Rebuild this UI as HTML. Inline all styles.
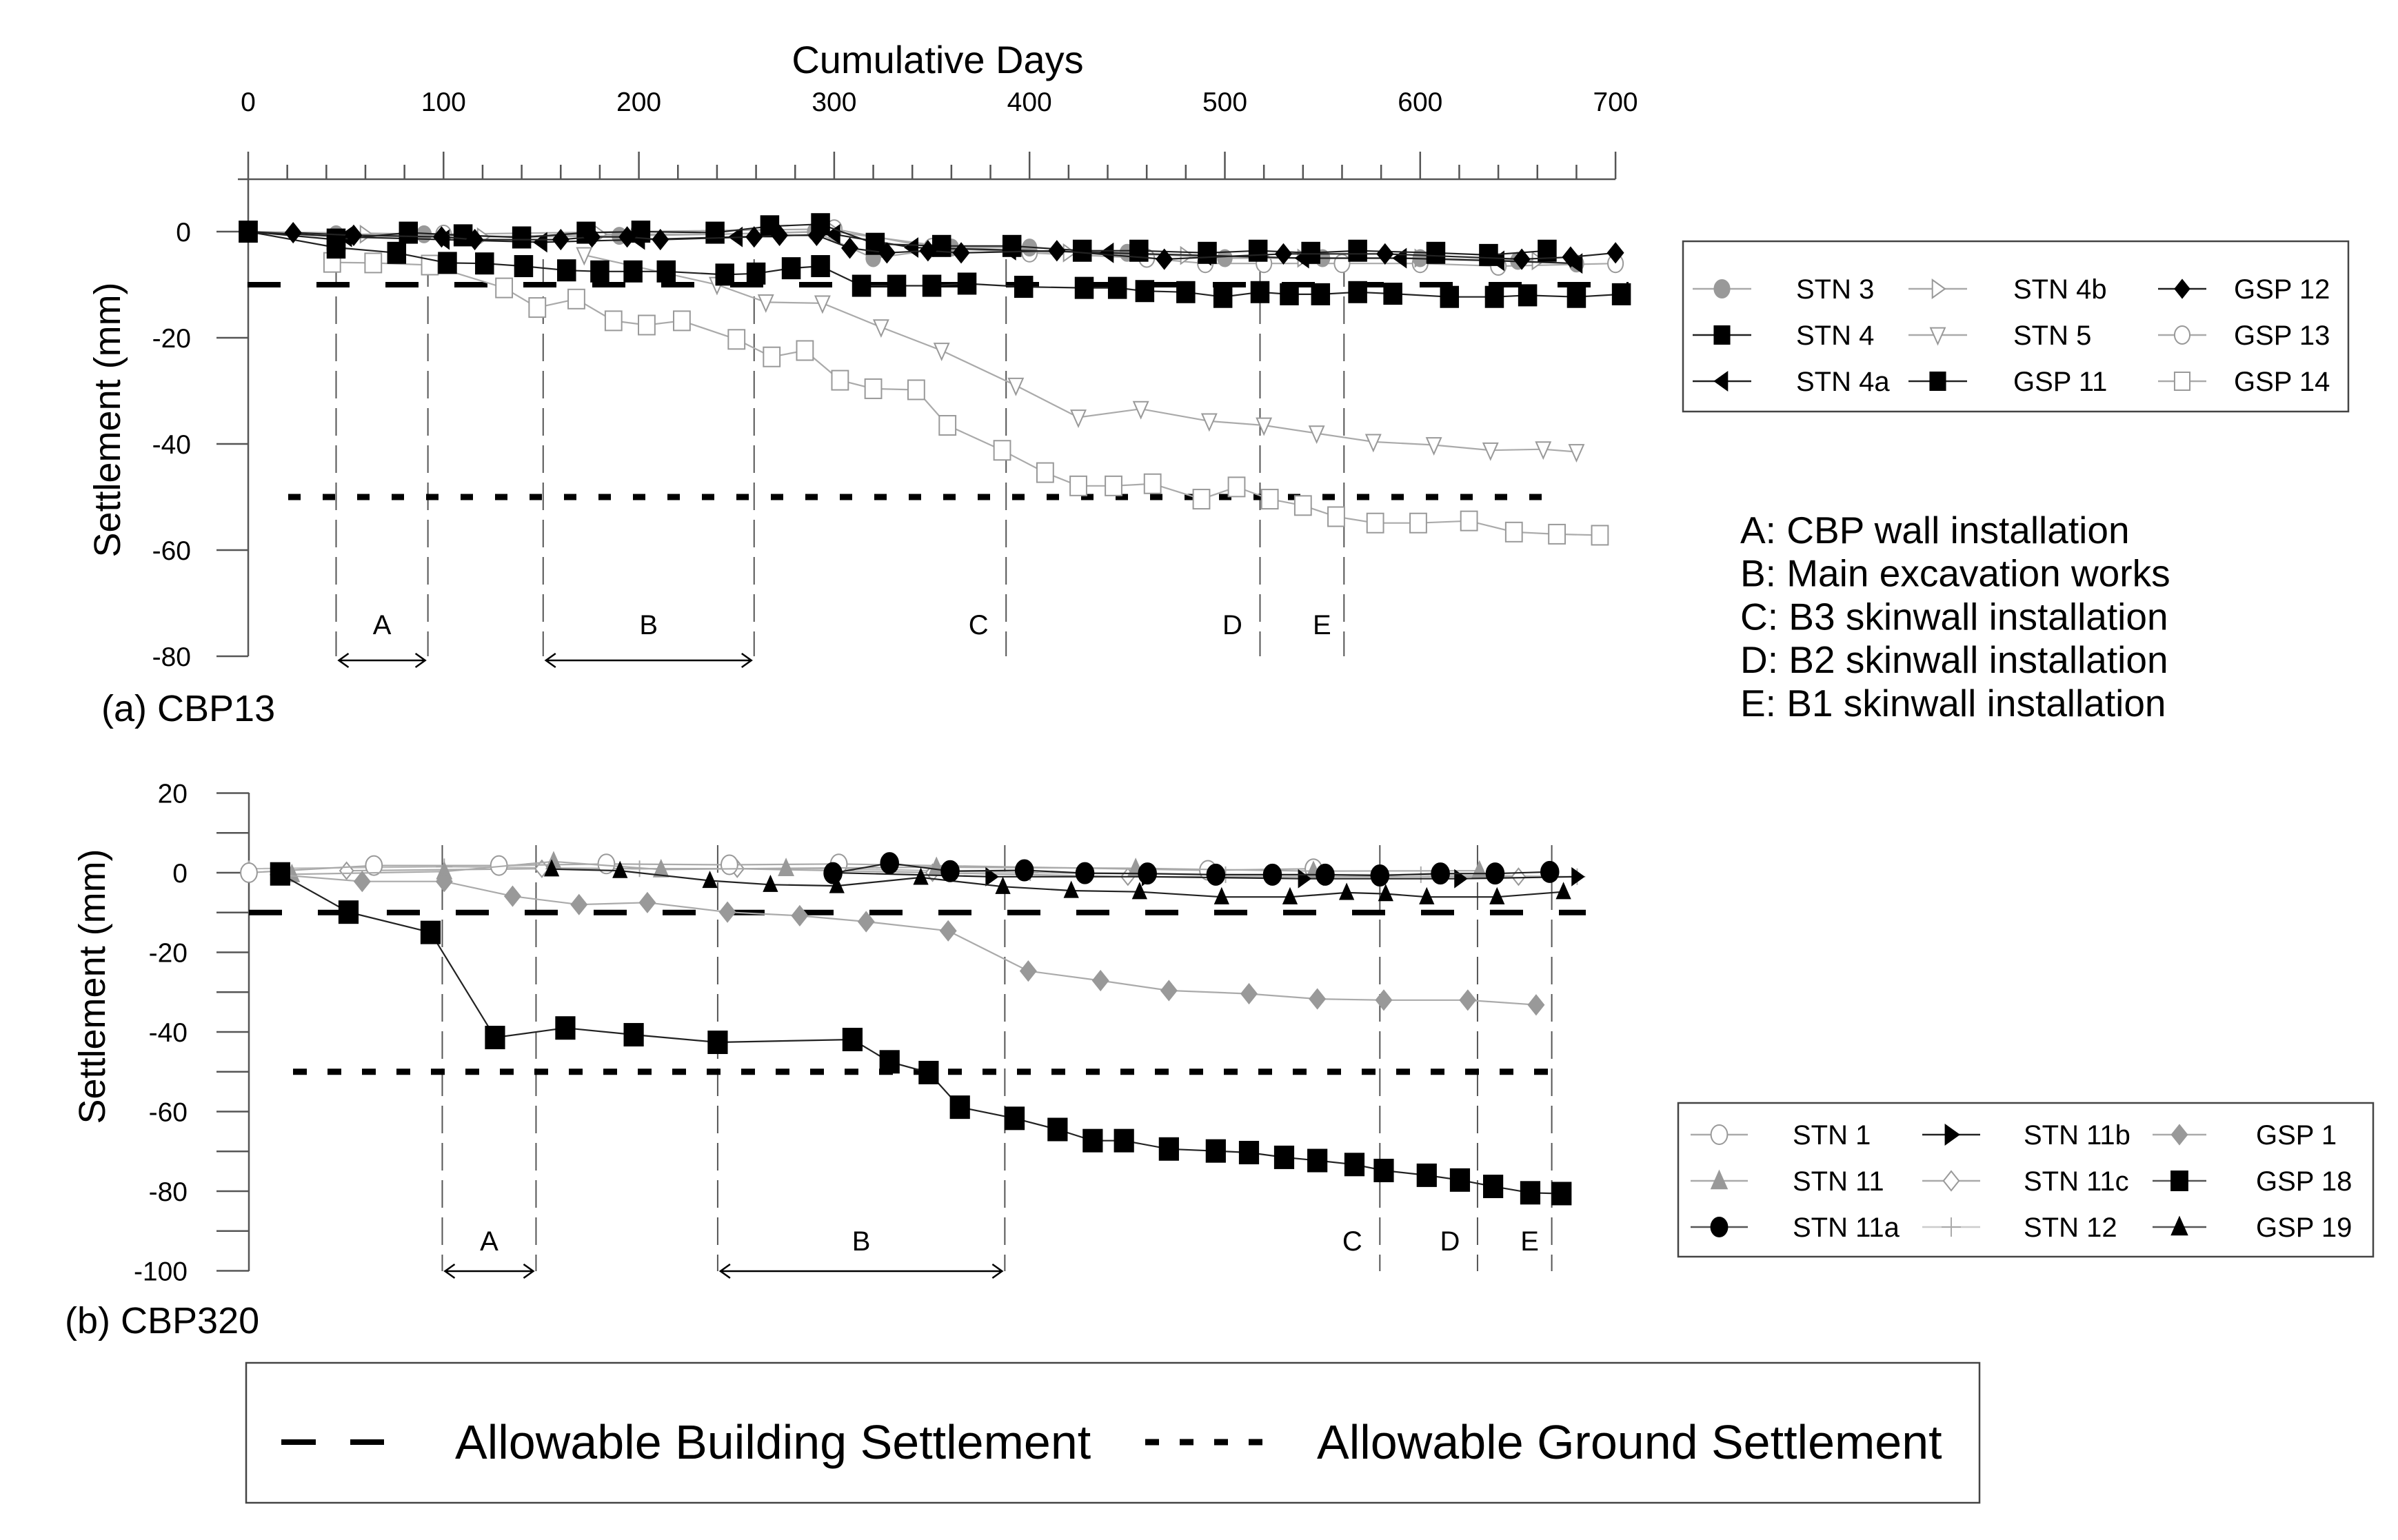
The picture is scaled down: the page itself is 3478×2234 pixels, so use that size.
<!DOCTYPE html>
<html><head><meta charset="utf-8"><title>Settlement chart</title>
<style>
html,body{margin:0;padding:0;background:#fff;}
svg{display:block;font-family:"Liberation Sans",Arial,sans-serif;}
</style></head>
<body>
<svg id="chart" width="3478" height="2234" viewBox="0 0 3478 2234" xmlns="http://www.w3.org/2000/svg">
<rect width="3478" height="2234" fill="#fff"/>
<g id="topPanel"></g>
<g id="botPanel"></g>
<g id="legPanel"></g>
</svg>
<script>
// ---------- DATA: panel (a) CBP13 ----------
const xTicksTop = [0,100,200,300,400,500,600,700];
const yTicksTop = [0,-20,-40,-60,-80];
const yTicksBot = [20,0,-20,-40,-60,-80,-100];
const eventDaysTop = [45,92,151,259,388,518,561];
const eventDaysBot = [99,147,240,387,579,629,667];

const stn3Days = [0,45,90,140,190,240,290,320,360,400,450,500,550,600,650,680];
const stn3Vals = [0,-0.5,-0.5,-1,-0.8,-0.5,0,-5,-3,-3,-4,-5,-5,-5,-5.5,-6];
const stn4Days = [0,45,82,110,140,173,201,239,267,293,321,355,391,427,456,491,517,544,568,608,635,665];
const stn4Vals = [0,-1.5,-0.2,-0.7,-1.1,-0.2,0,-0.2,1,1.4,-2.3,-2.7,-2.7,-3.6,-3.6,-4,-3.6,-4,-3.6,-4,-4.4,-3.6];
const stn4aDays = [0,50,100,150,200,250,300,340,390,440,490,540,590,640,680];
const stn4aVals = [0,-1,-1.5,-2,-1.5,-1,-0.5,-3,-3.5,-4,-4.5,-5,-5,-5.5,-6];
const stn4bDays = [0,60,120,180,240,300,360,420,480,540,600,660];
const stn4bVals = [0,-0.5,-1,-0.5,-0.5,0,-3,-4,-4.5,-5,-5,-5.5];
const stn5Days = [172,240,265,294,324,355,393,425,457,492,520,547,576,607,636,663,680];
const stn5Vals = [-4.4,-10,-13.3,-13.5,-18,-22.4,-29,-35,-33.4,-35.7,-36.5,-38,-39.6,-40.2,-41.2,-41,-41.5];
const gsp11Days = [0,45,76,102,121,141,163,180,197,214,244,260,278,293,314,332,350,368,397,428,445,459,480,499,518,533,549,568,586,615,638,655,680,703];
const gsp11Vals = [0,-3,-4,-5.9,-6,-6.5,-7.3,-7.5,-7.5,-7.5,-8.1,-7.9,-6.9,-6.5,-10.2,-10.2,-10.2,-9.8,-10.4,-10.6,-10.6,-11.2,-11.4,-12.3,-11.4,-11.8,-11.8,-11.4,-11.7,-12.3,-12.3,-12,-12.3,-11.8];
const gsp12Days = [23,54,99,116,160,176,194,211,259,272,291,308,327,348,365,414,469,530,582,652,677,700];
const gsp12Vals = [-0.2,-0.7,-1,-1.5,-1.5,-1,-1,-1.5,-1,-0.7,-0.7,-3.1,-4,-3.6,-4,-3.6,-5.2,-4.2,-4.2,-5.2,-4.8,-4];
const gsp13Days = [0,100,200,300,350,400,460,490,520,560,600,640,700];
const gsp13Vals = [0,-0.5,0,0.5,-3,-4,-5,-6,-6,-6,-6,-6.5,-6];
const gsp14Days = [43,64,93,131,148,168,187,204,222,250,268,285,303,320,342,358,386,408,425,443,463,488,506,523,540,557,577,599,625,648,670,692];
const gsp14Vals = [-5.8,-5.9,-6.3,-10.6,-14.3,-12.7,-16.8,-17.6,-16.8,-20.3,-23.6,-22.4,-28,-29.6,-29.8,-36.5,-41.2,-45.4,-47.9,-47.9,-47.5,-50.4,-48.1,-50.4,-51.6,-53.7,-54.9,-54.9,-54.5,-56.6,-57,-57.2];

// ---------- DATA: panel (b) CBP320 ----------
const stn1Days = [0,64,128,183,246,302,491,545];
const stn1Vals = [0,1.8,1.8,2.2,2,2.2,0.6,1];
const stn11Days = [22,100,156,211,275,352,454,545,630];
const stn11Vals = [-0.4,0.3,2.8,0.8,1.1,1.4,1.1,0.4,0.5];
const stn11aDays = [299,328,359,397,428,460,495,524,551,579,610,638,666];
const stn11aVals = [-0.1,2.4,0.4,0.6,-0.1,-0.2,-0.5,-0.5,-0.5,-0.7,-0.2,-0.2,0.2];
const stn11bDays = [300,380,460,540,620,680];
const stn11bVals = [0,-1,-1,-1.5,-1.5,-1];
const stn11cDays = [50,150,250,350,450,550,650];
const stn11cVals = [0.5,1,1,0,-1,-1,-1];
const stn12Days = [0,100,200,300,400,500,600,680];
const stn12Vals = [1,1.5,1,1,0,-0.5,-0.5,-1];
const gsp1Days = [15,58,100,135,169,204,245,282,316,358,399,436,471,512,547,581,624,659];
const gsp1Vals = [-0.5,-2.2,-2.2,-5.9,-8,-7.5,-9.9,-10.8,-12.3,-14.6,-24.7,-27.1,-29.6,-30.4,-31.7,-32,-32,-33.2];
const gsp18Days = [16,51,93,126,162,197,240,309,328,348,364,392,414,432,448,471,495,512,530,547,566,581,603,620,637,656,672];
const gsp18Vals = [-0.3,-9.9,-15,-41.4,-39,-40.7,-42.6,-41.9,-47.5,-50.2,-58.9,-61.7,-64.5,-67.3,-67.3,-69.4,-69.9,-70.3,-71.5,-72.3,-73.3,-74.8,-76,-77.2,-78.8,-80.4,-80.6];
const gsp19Days = [155,190,236,267,301,344,386,421,456,498,533,562,582,603,639,673];
const gsp19Vals = [0.9,0.5,-2,-3,-3.3,-1.2,-3.5,-4.5,-4.8,-6.1,-6.1,-5,-5.3,-6.1,-6.1,-4.8];

// ---------- helpers ----------
const NS = "http://www.w3.org/2000/svg";
function el(tag, attrs, parent){const e=document.createElementNS(NS,tag);for(const k in attrs)e.setAttribute(k,attrs[k]);parent.appendChild(e);return e;}
const xT = d => 360 + d*2.833;
const yT = v => 336 - v*7.7;
const xB = d => 361 + d*2.833;
const yB = v => 1266 - v*5.775;

function marker(g, shape, x, y, fill, stroke, s){
  let m;
  const h = s/2;
  if(shape==='circle'){ m = el('ellipse',{cx:x,cy:y,rx:h*0.85,ry:h,fill:fill,stroke:stroke,'stroke-width':2},g); }
  else if(shape==='square'){ m = el('rect',{x:x-h*0.85,y:y-h,width:s*0.85,height:s,fill:fill,stroke:stroke,'stroke-width':2},g); }
  else if(shape==='diamond'){ m = el('polygon',{points:`${x},${y-h} ${x+h*0.8},${y} ${x},${y+h} ${x-h*0.8},${y}`,fill:fill,stroke:stroke,'stroke-width':2},g); }
  else if(shape==='triUp'){ m = el('polygon',{points:`${x},${y-h} ${x+h*0.8},${y+h*0.8} ${x-h*0.8},${y+h*0.8}`,fill:fill,stroke:stroke,'stroke-width':2},g); }
  else if(shape==='triDown'){ m = el('polygon',{points:`${x},${y+h} ${x+h*0.8},${y-h*0.8} ${x-h*0.8},${y-h*0.8}`,fill:fill,stroke:stroke,'stroke-width':2},g); }
  else if(shape==='triLeft'){ m = el('polygon',{points:`${x-h*0.8},${y} ${x+h*0.6},${y-h} ${x+h*0.6},${y+h}`,fill:fill,stroke:stroke,'stroke-width':2},g); }
  else if(shape==='triRight'){ m = el('polygon',{points:`${x+h*0.8},${y} ${x-h*0.6},${y-h} ${x-h*0.6},${y+h}`,fill:fill,stroke:stroke,'stroke-width':2},g); }
  else { m = el('path',{d:`M${x-h} ${y}H${x+h}M${x} ${y-h}V${y+h}`,stroke:stroke,'stroke-width':2,fill:'none'},g); }
  return m;
}

function series(parent, name, days, vals, xf, yf, shape, fill, stroke, line, s){
  const g = el('g',{},parent);
  
  
  const pts = days.map((d,i)=>`${xf(d).toFixed(1)},${yf(vals[i]).toFixed(1)}`).join(' ');
  const pl = el('polyline',{points:pts,fill:'none',stroke:line,'stroke-width':2.2},g);
  
  
  days.forEach((d,i)=>{
    const m = marker(g, shape, xf(d), yf(vals[i]), fill, stroke, s);
    
    
  });
}

function addText(parent, name, x, y, str, size, anchor, extra){
  const t = el('text',Object.assign({x:x,y:y,'font-size':size,'text-anchor':anchor||'start',fill:'#000'},extra||{}),parent);
  t.textContent = str;
  
  
  return t;
}

function events(parent, days, xf, yTop, yBot, labY, arrowY, labels){
  days.forEach((d,i)=>{
    const l = el('line',{x1:xf(d),x2:xf(d),y1:yTop,y2:yBot,stroke:'#555','stroke-width':2,'stroke-dasharray':'40 14'},parent);
    
    
  });
  const pos = [ (xf(days[0])+xf(days[1]))/2, (xf(days[2])+xf(days[3]))/2, xf(days[4])-40, xf(days[5])-40, xf(days[6])-32 ];
  labels.forEach((lb,i)=>{ addText(parent,'event-label-'+lb.toLowerCase(),pos[i],labY,lb,40,'middle'); });
  [[0,1],[2,3]].forEach(([a,b])=>{
    const x1=xf(days[a])+4, x2=xf(days[b])-4;
    const ar = el('path',{d:`M${x1} ${arrowY}H${x2}M${x1+14} ${arrowY-10}L${x1} ${arrowY}L${x1+14} ${arrowY+10}M${x2-14} ${arrowY-10}L${x2} ${arrowY}L${x2-14} ${arrowY+10}`,stroke:'#000','stroke-width':2.5,fill:'none'},parent);
    
    
  });
}

// ---------- panel (a) ----------
const topG = document.getElementById('topPanel');
addText(topG,'x-axis-title',1360,106,'Cumulative Days',56,'middle');
const axT = el('path',{d:'M345 260H2343M360 260V952',stroke:'#555','stroke-width':2.5,fill:'none'},topG);
 
for(let d=0; d<=700; d+=20){
  const major = d%100===0;
  const tk = el('line',{x1:xT(d),x2:xT(d),y1:major?220:239,y2:260,stroke:'#555','stroke-width':2.5},topG);
   
}
xTicksTop.forEach(d=>addText(topG,'x-tick-label',xT(d),161,String(d),39,'middle'));
yTicksTop.forEach(v=>{
  const tk = el('line',{x1:314,x2:360,y1:yT(v),y2:yT(v),stroke:'#555','stroke-width':2.5},topG);
   
  addText(topG,'y-tick-label',277,yT(v)+14,String(v),39,'end');
});
addText(topG,'y-axis-title',0,0,'Settlement (mm)',54,'middle',{transform:'translate(174,609) rotate(-90)'});
addText(topG,'panel-label-a',147,1046,'(a) CBP13',54,'start');
events(topG, eventDaysTop, xT, 376, 952, 920, 958, ['A','B','C','D','E']);
const bsT = el('line',{x1:359,x2:2362,y1:yT(-10),y2:yT(-10),stroke:'#000','stroke-width':8,'stroke-dasharray':'48 52'},topG);
 
const gsT = el('line',{x1:418,x2:2262,y1:yT(-50),y2:yT(-50),stroke:'#000','stroke-width':9,'stroke-dasharray':'18 32'},topG);
 

series(topG,'gsp14-series',gsp14Days,gsp14Vals,xT,yT,'square','#fff','#999','#aaa',28);
series(topG,'stn5-series',stn5Days,stn5Vals,xT,yT,'triDown','#fff','#999','#aaa',26);
series(topG,'gsp13-series',gsp13Days,gsp13Vals,xT,yT,'circle','#fff','#999','#aaa',26);
series(topG,'stn4b-series',stn4bDays,stn4bVals,xT,yT,'triRight','#fff','#999','#aaa',24);
series(topG,'stn3-series',stn3Days,stn3Vals,xT,yT,'circle','#999','#999','#aaa',24);
series(topG,'gsp11-series',gsp11Days,gsp11Vals,xT,yT,'square','#000','#000','#222',30);
series(topG,'stn4a-series',stn4aDays,stn4aVals,xT,yT,'triLeft','#000','#000','#222',26);
series(topG,'stn4-series',stn4Days,stn4Vals,xT,yT,'square','#000','#000','#222',30);
series(topG,'gsp12-series',gsp12Days,gsp12Vals,xT,yT,'diamond','#000','#000','#222',28);

const notes = ['A: CBP wall installation','B: Main excavation works','C: B3 skinwall installation','D: B2 skinwall installation','E: B1 skinwall installation'];
notes.forEach((n,i)=>addText(topG,'event-description-'+'abcde'[i],2524,788+i*62.7,n,55,'start'));

// ---------- panel (b) ----------
const botG = document.getElementById('botPanel');
const axB = el('path',{d:'M361 1150V1844',stroke:'#555','stroke-width':2.5,fill:'none'},botG);
 
for(let v=20; v>=-100; v-=10){
  const tk = el('line',{x1:314,x2:361,y1:yB(v),y2:yB(v),stroke:'#555','stroke-width':2.5},botG);
   
}
yTicksBot.forEach(v=>addText(botG,'y-tick-label',272,yB(v)+14,String(v),39,'end'));
addText(botG,'y-axis-title-b',0,0,'Settlement (mm)',54,'middle',{transform:'translate(152,1431) rotate(-90)'});
addText(botG,'panel-label-b',94,1934,'(b) CBP320',54,'start');
events(botG, eventDaysBot, xB, 1226, 1844, 1814, 1844, ['A','B','C','D','E']);
const bsB = el('line',{x1:361,x2:2300,y1:yB(-10),y2:yB(-10),stroke:'#000','stroke-width':8,'stroke-dasharray':'48 52'},botG);
 
const gsB = el('line',{x1:425,x2:2262,y1:yB(-50),y2:yB(-50),stroke:'#000','stroke-width':9,'stroke-dasharray':'20 30'},botG);
 

series(botG,'stn12-series',stn12Days,stn12Vals,xB,yB,'plus','none','#aaa','#bbb',24);
series(botG,'stn11c-series',stn11cDays,stn11cVals,xB,yB,'diamond','#fff','#999','#aaa',24);
series(botG,'stn1-series',stn1Days,stn1Vals,xB,yB,'circle','#fff','#999','#aaa',28);
series(botG,'stn11-series',stn11Days,stn11Vals,xB,yB,'triUp','#999','#999','#aaa',26);
series(botG,'gsp1-series',gsp1Days,gsp1Vals,xB,yB,'diamond','#999','#999','#aaa',28);
series(botG,'stn11b-series',stn11bDays,stn11bVals,xB,yB,'triRight','#000','#000','#222',24);
series(botG,'gsp19-series',gsp19Days,gsp19Vals,xB,yB,'triUp','#000','#000','#222',24);
series(botG,'stn11a-series',stn11aDays,stn11aVals,xB,yB,'circle','#000','#000','#222',30);
series(botG,'gsp18-series',gsp18Days,gsp18Vals,xB,yB,'square','#000','#000','#222',32);

// ---------- legends ----------
const legG = document.getElementById('legPanel');
function legendBox(name,x,y,w,h){
  const r = el('rect',{x:x,y:y,width:w,height:h,fill:'#fff',stroke:'#444','stroke-width':2.5},legG);
   
}
function legendEntry(name,lx1,lx2,y,tx,label,shape,fill,stroke,line,s){
  const g = el('g',{},legG);
  
  
  el('line',{x1:lx1,x2:lx2,y1:y,y2:y,stroke:line,'stroke-width':2.5},g);
  marker(g,shape,(lx1+lx2)/2,y,fill,stroke,s);
  addText(g,'legend-label-'+name,tx,y+14,label,40,'start');
}
legendBox('legend-a',2441,350,965,247);
const legA = [
 ['stn3','STN 3','circle','#999','#999','#aaa',0,0],
 ['stn4','STN 4','square','#000','#000','#222',0,1],
 ['stn4a','STN 4a','triLeft','#000','#000','#222',0,2],
 ['stn4b','STN 4b','triRight','#fff','#999','#aaa',1,0],
 ['stn5','STN 5','triDown','#fff','#999','#aaa',1,1],
 ['gsp11','GSP 11','square','#000','#000','#222',1,2],
 ['gsp12','GSP 12','diamond','#000','#000','#222',2,0],
 ['gsp13','GSP 13','circle','#fff','#999','#aaa',2,1],
 ['gsp14','GSP 14','square','#fff','#999','#aaa',2,2]];
const colA = [[2455,2540,2605],[2768,2853,2920],[3130,3200,3240]];
legA.forEach(e=>{const c=colA[e[6]];legendEntry(e[0],c[0],c[1],419+e[7]*67,c[2],e[1],e[2],e[3],e[4],e[5],26);});

legendBox('legend-b',2434,1600,1008,223);
const legB = [
 ['stn1','STN 1','circle','#fff','#999','#aaa',0,0],
 ['stn11','STN 11','triUp','#999','#999','#aaa',0,1],
 ['stn11a','STN 11a','circle','#000','#000','#555',0,2],
 ['stn11b','STN 11b','triRight','#000','#000','#222',1,0],
 ['stn11c','STN 11c','diamond','#fff','#999','#aaa',1,1],
 ['stn12','STN 12','plus','none','#aaa','#ccc',1,2],
 ['gsp1','GSP 1','diamond','#999','#999','#aaa',2,0],
 ['gsp18','GSP 18','square','#000','#000','#555',2,1],
 ['gsp19','GSP 19','triUp','#000','#000','#555',2,2]];
const colB = [[2452,2535,2600],[2788,2872,2935],[3122,3200,3272]];
legB.forEach(e=>{const c=colB[e[6]];legendEntry(e[0],c[0],c[1],1646+e[7]*67,c[2],e[1],e[2],e[3],e[4],e[5],28);});

legendBox('legend-limits',357,1977,2514,203);
const l1 = el('line',{x1:408,x2:557,y1:2092,y2:2092,stroke:'#000','stroke-width':8,'stroke-dasharray':'50 50'},legG);
 
addText(legG,'legend-building-label',660,2116,'Allowable Building Settlement',70,'start');
const l2 = el('line',{x1:1661,x2:1832,y1:2092,y2:2092,stroke:'#000','stroke-width':9,'stroke-dasharray':'20 30'},legG);
 
addText(legG,'legend-ground-label',1910,2116,'Allowable Ground Settlement',70,'start');
</script>
</body></html>
